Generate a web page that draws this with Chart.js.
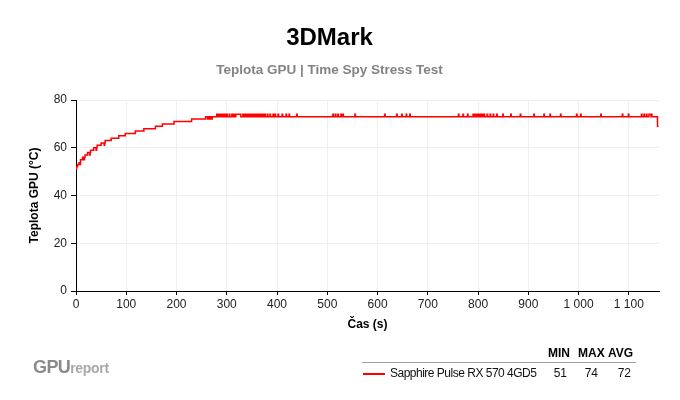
<!DOCTYPE html>
<html>
<head>
<meta charset="utf-8">
<script src="https://cdn.jsdelivr.net/npm/chart.js@4/dist/chart.umd.min.js"></script>
<style>
  body { margin:0; background:#fff; font-family:"Liberation Sans", Arial, sans-serif; }
  #wrap { position:relative; width:680px; height:400px; }
  #wrap canvas { position:absolute; left:0; top:0; }
  .abs { position:absolute; white-space:nowrap; }
</style>
</head>
<body>
<div id="wrap">
  <canvas id="chart" width="680" height="400"></canvas>
  <div class="abs" style="left:33px;top:357px;color:#8a8a8a;font-weight:bold;font-size:18px;letter-spacing:-0.6px;">GPU<span style="font-size:14px;color:#a8a8a8;letter-spacing:-0.3px;">report</span></div>
  <div class="abs" style="left:362px;top:362px;width:274px;height:0;border-top:1.5px solid #a0a0a0;"></div>
  <div class="abs" style="left:548px;top:346px;font-weight:bold;font-size:12px;">MIN</div>
  <div class="abs" style="left:578px;top:346px;font-weight:bold;font-size:12px;">MAX</div>
  <div class="abs" style="left:608px;top:346px;font-weight:bold;font-size:12px;">AVG</div>
  <div class="abs" style="left:363px;top:373px;width:22px;height:2px;background:#ff0000;"></div>
  <div class="abs" id="lg-name" style="left:390px;top:366px;font-size:12px;letter-spacing:-0.5px;color:#111;"></div>
  <div class="abs" id="v-min" style="right:113px;top:366px;font-size:12px;color:#111;"></div>
  <div class="abs" id="v-max" style="right:82px;top:366px;font-size:12px;color:#111;"></div>
  <div class="abs" id="v-avg" style="right:49px;top:366px;font-size:12px;color:#111;"></div>
</div>
<script>
'use strict';

const seriesName = 'Sapphire Pulse RX 570 4GD5';
const statMin = 51, statMax = 74, statAvg = 72;

// warm-up ramp (s -> °C), value holds until next point
const rampTimes = [0, 1, 3, 6, 9, 13, 18, 23, 29, 35, 42, 50, 58, 70, 85, 98, 118, 135, 158, 172, 195, 230, 258];
const rampTemps = [51, 52, 53, 54, 55, 56, 57, 58, 59, 60, 61, 62, 63, 64, 65, 66, 67, 68, 69, 70, 71, 72, 73];

// short flicks back to the previous value along the ramp
const flickTimes = [5, 16, 27, 40, 56, 68, 96, 116, 150, 190, 214, 262, 266, 270];
const flickTemps = [53, 55, 57, 59, 61, 63, 65, 66, 68, 70, 71, 72, 72, 72];

// plateau at 73 °C with short jumps to 74 °C
const plateauTemp = 73;
const spikeStart = [280, 284, 288, 292, 296, 300, 305, 310, 314, 318, 332, 336, 340, 344, 348, 352, 356, 360, 364, 368, 372, 376, 381, 386, 392, 396, 402, 410, 418, 424, 439,
  511, 516, 521, 527, 531, 555, 614, 638, 648, 657, 664, 761, 770, 779, 790, 794, 797, 800, 804, 808, 812, 818, 824, 830, 837,
  849, 865, 884, 911, 931, 943, 964, 996, 1004, 1044, 1087, 1099, 1125, 1130, 1135, 1140, 1145];
const spikeLen = [1, 1, 1, 1, 1, 1, 1, 1, 1, 10, 1, 1, 1, 1, 1, 1, 1, 1, 1, 1, 1, 1, 1, 1, 1, 1, 1, 1, 1, 1, 1,
  1, 1, 1, 1, 1, 1, 1, 1, 1, 1, 1, 1, 1, 1, 1, 1, 1, 1, 1, 1, 1, 1, 1, 1, 1,
  1, 1, 1, 1, 1, 1, 1, 1, 1, 1, 1, 1, 1, 1, 1, 4, 1];

// end of the run
const endTimes = [1157, 1159];
const endTemps = [69, 69];

const xMax = 1160;
const yTicks = [0, 20, 40, 60, 80];

function $(id) { return document.getElementById(id); }

function buildPoints() {
  const pts = [];
  rampTimes.forEach((t, i) => pts.push({x: t, y: rampTemps[i]}));
  // a flick drops to the listed value for one sample, then returns to the ramp level
  flickTimes.forEach((t, i) => {
    let level = rampTemps[0];
    rampTimes.forEach((rt, j) => { if (rt <= t) level = rampTemps[j]; });
    pts.push({x: t, y: flickTemps[i]});
    pts.push({x: t + 1, y: level});
  });
  spikeStart.forEach((t, i) => { pts.push({x: t, y: 74}); pts.push({x: t + spikeLen[i], y: plateauTemp}); });
  endTimes.forEach((t, i) => pts.push({x: t, y: endTemps[i]}));
  pts.sort((a, b) => a.x - b.x);
  return pts;
}

function fmtCz(v) {
  if (v >= 1000) return Math.floor(v / 1000) + ' ' + String(v % 1000).padStart(3, '0');
  return String(v);
}

$('lg-name').textContent = seriesName;
$('v-min').textContent = statMin;
$('v-max').textContent = statMax;
$('v-avg').textContent = statAvg;

const font = 'Liberation Sans, Arial, sans-serif';

new Chart($('chart').getContext('2d'), {
  type: 'line',
  data: {
    datasets: [{
      label: seriesName,
      data: buildPoints(),
      borderColor: '#ff0000',
      borderWidth: 1.5,
      pointRadius: 0,
      stepped: true,
      fill: false
    }]
  },
  options: {
    responsive: false,
    animation: false,
    layout: { padding: { left: 0, right: 21, top: 0, bottom: 64 } },
    plugins: {
      legend: { display: false },
      tooltip: { enabled: false },
      title: {
        display: true, text: '3DMark', color: '#000',
        font: { family: font, size: 24, weight: 'bold', lineHeight: 1.2 },
        padding: { top: 24, bottom: 4 }
      },
      subtitle: {
        display: true, text: 'Teplota GPU | Time Spy Stress Test', color: '#838383',
        font: { family: font, size: 13.5, weight: 'bold', lineHeight: 1.2 },
        padding: { top: 5, bottom: 22 }
      }
    },
    scales: {
      x: {
        type: 'linear', min: 0, max: xMax,
        afterFit: s => { s.height = 45; },
        border: { color: '#000', width: 1 },
        grid: { color: '#efefef', tickColor: '#000', tickLength: 4 },
        ticks: { stepSize: 100, includeBounds: false, maxRotation: 0, padding: 2, color: '#222', font: { family: font, size: 12 }, callback: v => fmtCz(v) },
        title: { display: true, text: 'Čas (s)', color: '#000', font: { family: font, size: 12, weight: 'bold', lineHeight: 1.2 }, padding: { top: 0, bottom: 4 } }
      },
      y: {
        min: 0, max: 80,
        afterFit: s => { s.width = 76; },
        afterBuildTicks: s => { s.ticks = yTicks.map(v => ({value: v})); },
        border: { color: '#000', width: 1 },
        grid: { color: '#efefef', tickColor: '#000', tickLength: 5 },
        ticks: { padding: 4, color: '#222', font: { family: font, size: 12 } },
        title: { display: true, text: 'Teplota GPU (°C)', color: '#000', font: { family: font, size: 12, weight: 'bold', lineHeight: 1.2 }, padding: { top: 27, bottom: 0 } }
      }
    }
  }
});
</script>
</body>
</html>
